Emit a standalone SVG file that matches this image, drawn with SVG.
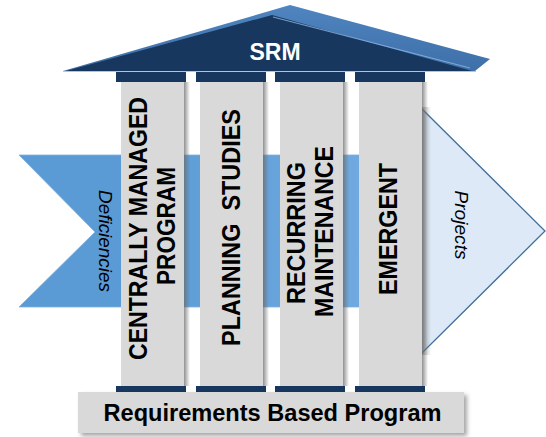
<svg xmlns="http://www.w3.org/2000/svg" width="546" height="437" viewBox="0 0 546 437">
<defs>
<style>
.col{fill:#d9d9d9}
.cap{fill:#17375e}
.sh{fill:url(#colShadow)}
.lbl{font-family:"Liberation Sans",Arial,sans-serif;font-weight:bold;font-size:25px;fill:#000;text-anchor:middle}
.it{font-family:"Liberation Sans",Arial,sans-serif;font-style:italic;font-size:19px;fill:#000;text-anchor:middle}
</style>
<linearGradient id="colShadow" x1="0" y1="0" x2="1" y2="0">
<stop offset="0" stop-color="#6b6b6b" stop-opacity="0.75"/>
<stop offset="1" stop-color="#6b6b6b" stop-opacity="0"/>
</linearGradient>
<linearGradient id="band" x1="0" y1="0" x2="1" y2="0">
<stop offset="0" stop-color="#5b9bd5"/>
<stop offset="0.3" stop-color="#5b9bd5"/>
<stop offset="1" stop-color="#74ace1"/>
</linearGradient>
<linearGradient id="roofEdge" x1="0" y1="0" x2="0" y2="1">
<stop offset="0" stop-color="#4f85c0"/>
<stop offset="1" stop-color="#3e6fa8"/>
</linearGradient>
<filter id="baseShadow" x="-5%" y="-20%" width="115%" height="150%">
<feGaussianBlur in="SourceAlpha" stdDeviation="2"/>
<feOffset dx="3" dy="3" result="b"/>
<feFlood flood-color="#000" flood-opacity="0.35"/>
<feComposite in2="b" operator="in"/>
<feMerge><feMergeNode/><feMergeNode in="SourceGraphic"/></feMerge>
</filter>
</defs>

<g id="deficiencies">
<polygon points="19,155 410,155 410,307 19,307 95,232" fill="url(#band)" stroke="#7fb0df" stroke-width="0.8"/>
<text class="it" transform="translate(99,241) rotate(90)" textLength="102" lengthAdjust="spacingAndGlyphs">Deficiencies</text>
</g>

<g id="projects">
<polygon points="420,107 545,231 420,355" fill="#dde9f6" stroke="#41719c" stroke-width="1.3"/>
<rect x="422" y="107" width="9" height="248" class="sh" opacity="0.7"/>
<text class="it" style="font-size:18px" transform="translate(455,225) rotate(90)" textLength="69" lengthAdjust="spacingAndGlyphs">Projects</text>
</g>

<g id="roof">
<polygon points="63,71 290,5 490,59 475,71" fill="url(#roofEdge)"/>
<polygon points="66,71 272,15 472,71" fill="#17375e"/>
<line x1="273" y1="17" x2="470" y2="68" stroke="#8db4e2" stroke-width="1.2" opacity="0.8"/>
<line x1="63" y1="71.5" x2="476" y2="71.5" stroke="#b9c3cf" stroke-width="1"/>
<text x="275" y="60" style="font-family:'Liberation Sans',Arial,sans-serif;font-weight:bold;font-size:23px;fill:#fff;text-anchor:middle">SRM</text>
</g>

<g id="col-centrally-managed">
<rect class="cap" x="116" y="72" width="70" height="10"/>
<rect class="col" x="121" y="82" width="63" height="304"/>
<rect class="sh" x="184" y="82" width="6" height="304"/>
<rect class="cap" x="116" y="386" width="70" height="6"/>
<text class="lbl" transform="translate(147,228.5) rotate(-90)" textLength="263" lengthAdjust="spacingAndGlyphs">CENTRALLY MANAGED</text>
<text class="lbl" transform="translate(175,226) rotate(-90)" textLength="118" lengthAdjust="spacingAndGlyphs">PROGRAM</text>
</g>

<g id="col-planning-studies">
<rect class="cap" x="196" y="72" width="70" height="10"/>
<rect class="col" x="200" y="82" width="63" height="304"/>
<rect class="sh" x="263" y="82" width="6" height="304"/>
<rect class="cap" x="196" y="386" width="70" height="6"/>
<text class="lbl" xml:space="preserve" transform="translate(240,227.5) rotate(-90)" textLength="237" lengthAdjust="spacingAndGlyphs">PLANNING  STUDIES</text>
</g>

<g id="col-recurring-maintenance">
<rect class="cap" x="275" y="72" width="70" height="10"/>
<rect class="col" x="280" y="82" width="63" height="304"/>
<rect class="sh" x="343" y="82" width="6" height="304"/>
<rect class="cap" x="275" y="386" width="70" height="6"/>
<text class="lbl" transform="translate(305,233) rotate(-90)" textLength="142" lengthAdjust="spacingAndGlyphs">RECURRING</text>
<text class="lbl" transform="translate(333,231.5) rotate(-90)" textLength="171" lengthAdjust="spacingAndGlyphs">MAINTENANCE</text>
</g>

<g id="col-emergent">
<rect class="cap" x="355" y="72" width="70" height="10"/>
<rect class="col" x="359" y="82" width="63" height="304"/>
<rect class="sh" x="422" y="82" width="6" height="304"/>
<rect class="cap" x="355" y="386" width="70" height="6"/>
<text class="lbl" transform="translate(397,229) rotate(-90)" textLength="132" lengthAdjust="spacingAndGlyphs">EMERGENT</text>
</g>

<g id="base">
<rect x="78" y="392" width="386" height="41" fill="#d9d9d9" filter="url(#baseShadow)"/>
<text x="272.5" y="421" style="font-family:'Liberation Sans',Arial,sans-serif;font-weight:bold;font-size:23px;fill:#000;text-anchor:middle" textLength="338" lengthAdjust="spacingAndGlyphs">Requirements Based Program</text>
</g>

<g id="connectors"></g>
</svg>
